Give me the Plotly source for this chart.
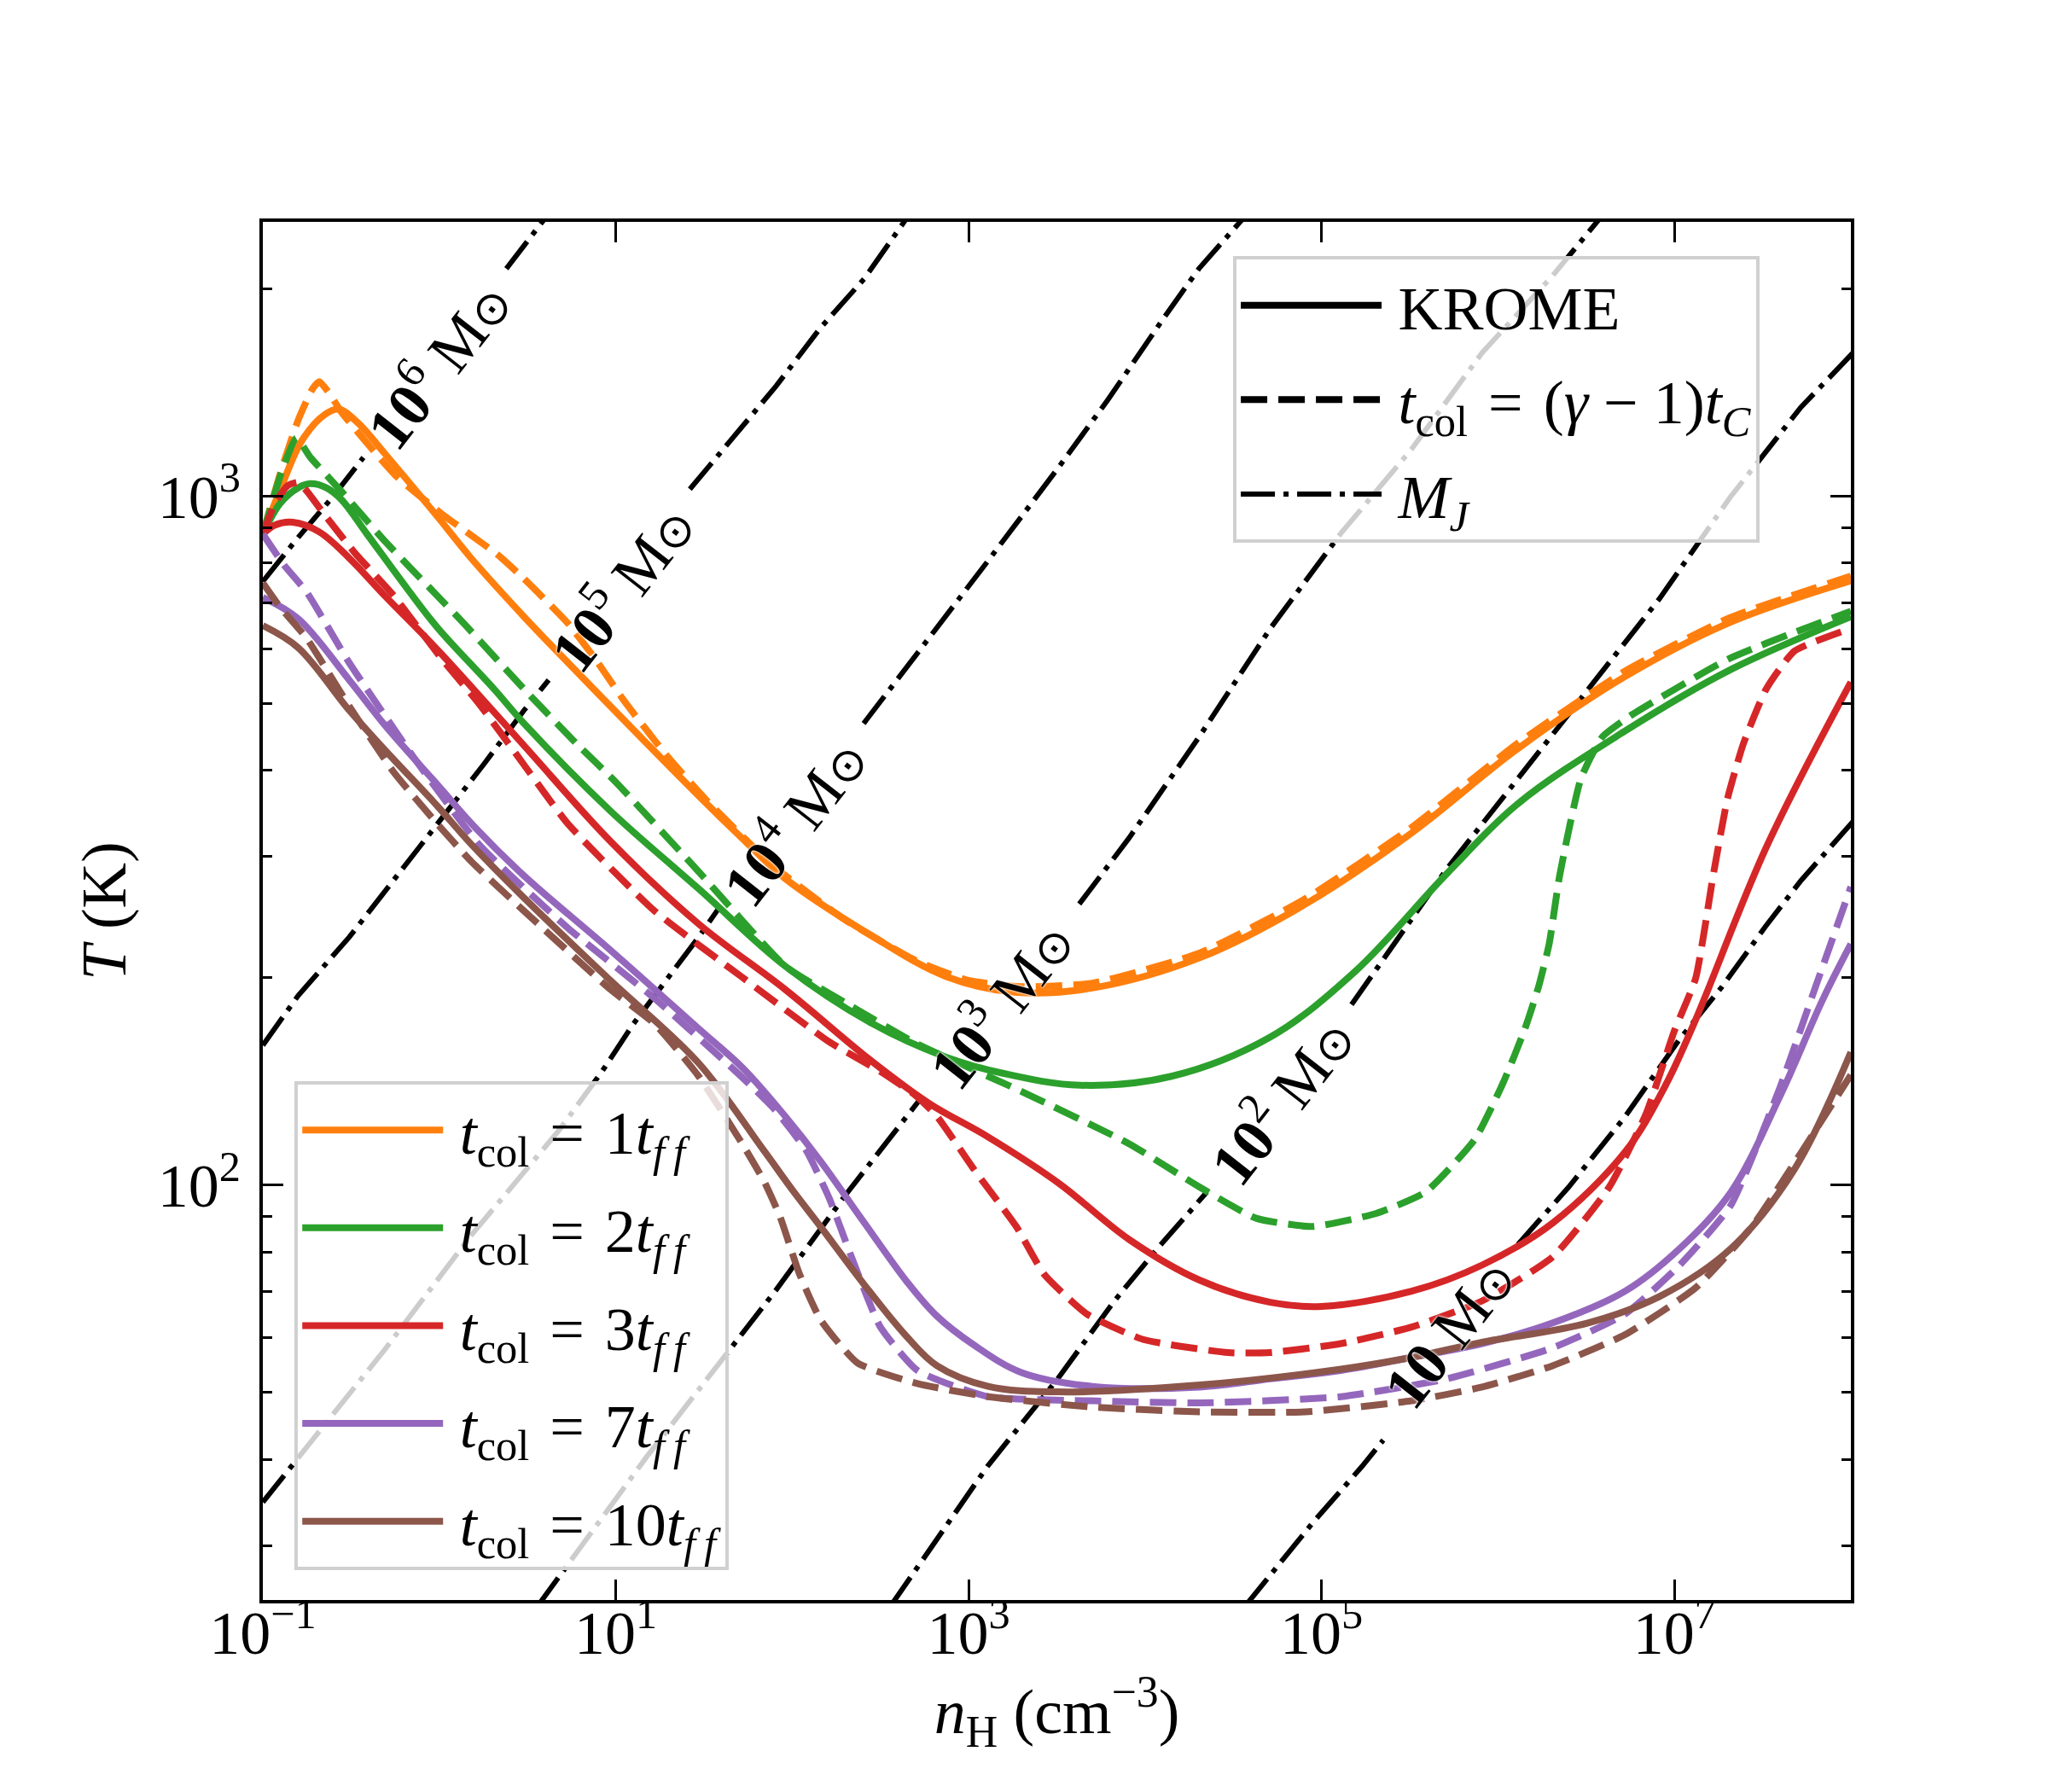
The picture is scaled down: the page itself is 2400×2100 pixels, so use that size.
import plotly.graph_objects as go

SERIF = "Liberation Serif"

# colours of the five collapse times (matplotlib tab10)
tcol_factors = [1, 2, 3, 7, 10]
tcol_colors = ["#ff7f0e", "#2ca02c", "#d62728", "#9467bd", "#8c564b"]

# ---- temperature tracks as log10(n_H), log10(T) ----
# t_col = 1 t_ff
t1_krome_logn = [-1.0, -0.9, -0.78, -0.65, -0.57, -0.46, -0.31, -0.01, 0.18, 0.48, 0.97, 1.47, 1.71, 1.96,
                 2.45, 2.87, 3.26, 3.70, 4.31, 4.91, 5.51, 6.11, 6.72, 7.31, 8.0]
t1_krome_logT = [2.945, 3.01, 3.08, 3.118, 3.126, 3.106, 3.062, 2.97, 2.91, 2.825, 2.695, 2.565, 2.505, 2.445,
                 2.362, 2.303, 2.28, 2.286, 2.330, 2.408, 2.511, 2.633, 2.738, 2.816, 2.877]
t1_model_logn = [-1.0, -0.9, -0.8, -0.72, -0.68, -0.62, -0.555, -0.36, -0.24, 0.01, 0.33, 0.48, 0.73, 0.88,
                 1.05, 1.30, 1.52, 1.90, 2.30, 2.70, 3.00, 3.30, 3.70, 4.31, 4.91, 5.51, 6.11, 6.72, 7.31, 8.0]
t1_model_logT = [2.945, 3.034, 3.11, 3.155, 3.166, 3.148, 3.122, 3.062, 3.028, 2.975, 2.915, 2.88, 2.815, 2.765,
                 2.702, 2.62, 2.557, 2.462, 2.385, 2.326, 2.297, 2.288, 2.293, 2.337, 2.416, 2.519, 2.641, 2.746,
                 2.823, 2.884]

# t_col = 2 t_ff
t2_krome_logn = [-1.0, -0.9, -0.8, -0.73, -0.64, -0.555, -0.41, -0.18, -0.01, 0.31, 0.48, 0.97, 1.47, 1.96,
                 2.45, 2.87, 3.20, 3.63, 4.15, 4.71, 5.19, 5.71, 6.11, 6.72, 7.31, 8.0]
t2_krome_logT = [2.945, 2.99, 3.012, 3.018, 3.012, 2.995, 2.945, 2.865, 2.809, 2.72, 2.67, 2.543, 2.43, 2.318,
                 2.235, 2.186, 2.162, 2.145, 2.158, 2.215, 2.31, 2.452, 2.553, 2.659, 2.747, 2.825]
t2_model_logn = [-1.0, -0.9, -0.81, -0.73, -0.555, -0.31, -0.01, 0.14, 0.48, 0.78, 1.00, 1.47, 1.96, 2.30,
                 2.70, 3.30, 3.91, 4.31, 4.63, 4.95, 5.31, 5.59, 5.87, 6.03, 6.15, 6.23, 6.29, 6.35, 6.47, 6.59,
                 6.75, 7.31, 8.0]
t2_model_logT = [2.945, 3.03, 3.084, 3.056, 3.007, 2.935, 2.855, 2.815, 2.72, 2.64, 2.585, 2.455, 2.318, 2.265,
                 2.206, 2.136, 2.06, 1.997, 1.952, 1.94, 1.959, 1.99, 2.067, 2.149, 2.225, 2.288, 2.35, 2.45,
                 2.59, 2.65, 2.681, 2.764, 2.833]

# t_col = 3 t_ff
t3_krome_logn = [-1.0, -0.93, -0.83, -0.68, -0.51, -0.30, -0.01, 0.48, 0.97, 1.47, 1.96, 2.45, 2.78, 3.11,
                 3.51, 3.91, 4.31, 4.71, 5.0, 5.51, 5.91, 6.31, 6.72, 6.95, 7.12, 7.52, 8.0]
t3_krome_logT = [2.945, 2.958, 2.962, 2.948, 2.91, 2.853, 2.777, 2.638, 2.499, 2.379, 2.284, 2.18, 2.118, 2.07,
                 2.003, 1.921, 1.862, 1.83, 1.824, 1.846, 1.884, 1.945, 2.048, 2.145, 2.24, 2.49, 2.73]
t3_model_logn = [-1.0, -0.93, -0.86, -0.80, -0.75, -0.65, -0.48, -0.26, 0.01, 0.23, 0.48, 0.73, 1.22, 1.71,
                 2.21, 2.50, 2.70, 2.82, 3.03, 3.27, 3.43, 3.67, 3.99, 4.47, 4.71, 5.11, 5.51, 5.91, 6.31, 6.63,
                 6.84, 7.00, 7.12, 7.22, 7.30, 7.39, 7.52, 7.68, 8.0]
t3_model_logT = [2.945, 2.99, 3.015, 3.02, 3.007, 2.973, 2.918, 2.856, 2.765, 2.697, 2.61, 2.524, 2.398, 2.303,
                 2.208, 2.165, 2.13, 2.10, 2.023, 1.94, 1.87, 1.813, 1.776, 1.757, 1.757, 1.77, 1.794, 1.832,
                 1.896, 1.997, 2.104, 2.224, 2.30, 2.45, 2.56, 2.64, 2.72, 2.775, 2.808]

# t_col = 7 t_ff
t7_krome_logn = [-1.0, -0.8, -0.51, -0.31, -0.01, 0.2, 0.48, 0.97, 1.47, 1.72, 1.96, 2.16, 2.41, 2.65, 2.82,
                 3.03, 3.30, 3.70, 4.31, 4.71, 5.11, 5.51, 5.91, 6.31, 6.72, 7.03, 7.32, 7.60, 7.84, 8.0]
t7_krome_logT = [2.853, 2.822, 2.733, 2.668, 2.581, 2.52, 2.449, 2.341, 2.227, 2.17, 2.10, 2.035, 1.945, 1.86,
                 1.81, 1.768, 1.728, 1.708, 1.707, 1.719, 1.731, 1.75, 1.77, 1.80, 1.846, 1.908, 1.99, 2.13,
                 2.269, 2.35]
t7_model_logn = [-1.0, -0.88, -0.75, -0.51, -0.14, 0.23, 0.73, 1.22, 1.71, 1.90, 2.08, 2.21, 2.33, 2.50, 2.71,
                 3.11, 3.70, 4.31, 5.11, 5.71, 6.31, 6.72, 7.03, 7.32, 7.60, 7.80, 8.0]
t7_model_logT = [2.945, 2.9, 2.86, 2.758, 2.619, 2.493, 2.373, 2.271, 2.158, 2.11, 2.05, 1.981, 1.90, 1.794,
                 1.731, 1.693, 1.687, 1.684, 1.693, 1.719, 1.764, 1.813, 1.884, 1.971, 2.143, 2.288, 2.433]

# t_col = 10 t_ff
t10_krome_logn = [-1.0, -0.8, -0.51, -0.31, -0.01, 0.18, 0.48, 0.97, 1.47, 1.84, 2.01, 2.16, 2.41, 2.65, 2.82,
                  3.11, 3.51, 4.31, 5.11, 5.51, 5.91, 6.51, 6.92, 7.32, 7.68, 8.0]
t10_krome_logT = [2.812, 2.78, 2.689, 2.632, 2.55, 2.495, 2.417, 2.297, 2.177, 2.05, 1.99, 1.94, 1.855, 1.78,
                  1.738, 1.708, 1.70, 1.71, 1.733, 1.75, 1.772, 1.80, 1.839, 1.908, 2.023, 2.193]
t10_model_logn = [-1.0, -0.9, -0.75, -0.51, -0.26, -0.01, 0.18, 0.48, 0.97, 1.22, 1.47, 1.71, 1.84, 1.93, 2.04,
                  2.16, 2.37, 2.71, 3.11, 3.70, 4.31, 4.91, 5.51, 5.91, 6.31, 6.72, 7.12, 7.44, 7.72, 8.0]
t10_model_logT = [2.874, 2.838, 2.793, 2.695, 2.60, 2.524, 2.47, 2.398, 2.284, 2.234, 2.158, 2.063, 2.006, 1.955,
                  1.872, 1.805, 1.742, 1.712, 1.693, 1.678, 1.671, 1.671, 1.687, 1.707, 1.738, 1.783, 1.851, 1.94,
                  2.048, 2.16]

# ---- Jeans-mass lines (None = gap left for the label) ----
mj_exponents = [6, 5, 4, 3, 2, 1]
mj6_logn = [-1.0, -0.8, -0.6, -0.43, None, 0.38, 0.62]
mj6_logT = [2.876, 2.94, 3.0, 3.056, None, 3.33, 3.41]
mj5_logn = [-1.0, -0.8, -0.51, -0.25, -0.01, 0.25, 0.48, 0.62, None, 1.42, 1.66, 1.91, 2.16, 2.41, 2.64]
mj5_logT = [2.203, 2.275, 2.36, 2.445, 2.524, 2.61, 2.689, 2.733, None, 3.01, 3.084, 3.16, 3.244, 3.316, 3.40]
mj4_logn = [-1.0, -0.8, -0.31, 0.18, 0.68, 0.92, 1.10, 1.47, 1.59, None, 2.405, 2.705, 2.87, 3.107, 3.505,
            3.79, 4.11, 4.305, 4.58]
mj4_logT = [1.54, 1.604, 1.761, 1.927, 2.08, 2.164, 2.234, 2.36, 2.404, None, 2.67, 2.77, 2.828, 2.905, 3.04,
            3.14, 3.26, 3.33, 3.41]
mj3_logn = [0.56, 1.17, 1.909, 2.30, 2.72, None, 3.627, 3.907, 4.305, 4.71, 5.11, 5.51, 5.91, 6.31, 6.60]
mj3_logT = [1.39, 1.604, 1.848, 1.985, 2.123, None, 2.408, 2.503, 2.65, 2.808, 2.946, 3.068, 3.208, 3.32, 3.41]
mj2_logn = [2.56, 3.107, 3.505, 3.826, 4.07, 4.35, None, 5.17, 5.71, 6.113, 6.51, 6.915, 7.315, 7.717, 8.02]
mj2_logT = [1.39, 1.592, 1.719, 1.832, 1.908, 1.99, None, 2.262, 2.459, 2.59, 2.72, 2.851, 2.998, 3.129, 3.21]
mj1_logn = [4.57, 4.95, 5.23, 5.35, None, 6.113, 6.40, 6.716, 7.03, 7.27, 7.515, 7.717, 8.02]
mj1_logT = [1.39, 1.51, 1.592, 1.63, None, 1.914, 1.997, 2.098, 2.212, 2.288, 2.375, 2.442, 2.53]

# label centres on the Jeans lines
mj_label_logn = [-0.02, 1.02, 2.0, 3.17, 4.76, 5.73]
mj_label_logT = [3.193, 2.87, 2.53, 2.265, 2.126, 1.785]

x_tick_exp = [-1, 1, 3, 5, 7]
y_tick_exp = [2, 3]
y_minor = [30, 40, 50, 60, 70, 80, 90, 200, 300, 400, 500, 600, 700, 800, 900, 2000]


def lin(vals):
    return [None if v is None else 10 ** v for v in vals]


def sup(e):
    return "10<sup>" + str(e).replace("-", "\u2212") + "</sup>"


DASH = "31px,13px"
DASHDOT = "40px,10px,6px,10px"
EQ = "\u2004=\u2004"
LW = 8

fig = go.Figure()

# Jeans-mass lines go underneath everything
mj_logn = [mj6_logn, mj5_logn, mj4_logn, mj3_logn, mj2_logn, mj1_logn]
mj_logT = [mj6_logT, mj5_logT, mj4_logT, mj3_logT, mj2_logT, mj1_logT]
for ln, lt in zip(mj_logn, mj_logT):
    fig.add_trace(go.Scatter(x=lin(ln), y=lin(lt), mode="lines", connectgaps=False,
                             line=dict(color="black", width=6, dash=DASHDOT),
                             showlegend=False, hoverinfo="skip"))

krome = [t1_krome_logn, t1_krome_logT], [t2_krome_logn, t2_krome_logT], [t3_krome_logn, t3_krome_logT], \
        [t7_krome_logn, t7_krome_logT], [t10_krome_logn, t10_krome_logT]
model = [t1_model_logn, t1_model_logT], [t2_model_logn, t2_model_logT], [t3_model_logn, t3_model_logT], \
        [t7_model_logn, t7_model_logT], [t10_model_logn, t10_model_logT]

for k, (fac, col) in enumerate(zip(tcol_factors, tcol_colors)):
    label = "\u2009<i>t</i><sub>col</sub>" + EQ + "%d<i>t</i><sub><i>f\u2009f</i></sub>" % fac
    fig.add_trace(go.Scatter(x=lin(krome[k][0]), y=lin(krome[k][1]), mode="lines",
                             line=dict(color=col, width=LW, shape="spline", smoothing=1.0),
                             name=label, legend="legend2", legendgroup=str(fac)))
    fig.add_trace(go.Scatter(x=lin(model[k][0]), y=lin(model[k][1]), mode="lines",
                             line=dict(color=col, width=LW, dash=DASH, shape="spline", smoothing=0.5),
                             showlegend=False))

# proxies for the line-style legend
fig.add_trace(go.Scatter(x=[None], y=[None], mode="lines", name="\u2009KROME",
                         line=dict(color="black", width=LW), legend="legend", legendgroup="a"))
fig.add_trace(go.Scatter(x=[None], y=[None], mode="lines",
                         name="\u2009<i>t</i><sub>col</sub>" + EQ + "(<i>\u03b3</i> \u2212 1)<i>t</i><sub><i>C</i></sub>",
                         line=dict(color="black", width=LW, dash=DASH), legend="legend", legendgroup="b"))
fig.add_trace(go.Scatter(x=[None], y=[None], mode="lines", name="\u2009<i>M<sub>J</sub></i>",
                         line=dict(color="black", width=6, dash=DASHDOT), legend="legend", legendgroup="c"))

for e, lx, ly in zip(mj_exponents, mj_label_logn, mj_label_logT):
    txt = "<b>10</b>" + ("<sup>%d</sup>" % e if e > 1 else "") + " M<span style='font-size:54px'>\u2299</span>"
    fig.add_annotation(x=lx, y=ly, xref="x", yref="y", text=txt, showarrow=False, textangle=-52,
                       font=dict(family=SERIF, size=72, color="black",
                                 shadow="0px 0px 3px white, 0px 0px 3px white"))

fig.update_xaxes(type="log", range=[-1, 8], tickvals=[10 ** e for e in x_tick_exp],
                 ticktext=[sup(e) for e in x_tick_exp], ticks="inside", ticklen=24, tickwidth=3,
                 tickcolor="black", showline=True, linecolor="black", linewidth=3.5, mirror="allticks",
                 showgrid=False, zeroline=False, tickfont=dict(size=72), ticklabelstandoff=-27,
                 title=dict(text="<i>n</i><sub>H</sub> (cm<sup>\u22123</sup>)", font=dict(size=74), standoff=24))
fig.update_yaxes(type="log", range=[1.39794, 3.39794], tickvals=[10 ** e for e in y_tick_exp],
                 ticktext=[sup(e) for e in y_tick_exp], ticks="inside", ticklen=24, tickwidth=3,
                 tickcolor="black", showline=True, linecolor="black", linewidth=3.5, mirror="allticks",
                 showgrid=False, zeroline=False, tickfont=dict(size=72), ticklabelstandoff=8,
                 minor=dict(tickvals=y_minor, ticks="inside", ticklen=11, tickwidth=2.5, tickcolor="black",
                            showgrid=False),
                 title=dict(text="<i>T</i> (K)", font=dict(size=74), standoff=14))

legend_common = dict(bgcolor="rgba(255,255,255,0.8)", bordercolor="#d0d0d0", borderwidth=4,
                     font=dict(family=SERIF, size=72, color="black"), itemwidth=165)
fig.update_layout(
    width=2400, height=2100,
    margin=dict(l=300, r=239, t=252, b=233),
    paper_bgcolor="white", plot_bgcolor="white",
    font=dict(family=SERIF, size=66, color="black"),
    legend=dict(x=0.611, y=0.975, xanchor="left", yanchor="top", tracegroupgap=14, **legend_common),
    legend2=dict(x=0.02, y=0.0217, xanchor="left", yanchor="bottom", tracegroupgap=18, **legend_common),
)

fig.write_html("out.html")
